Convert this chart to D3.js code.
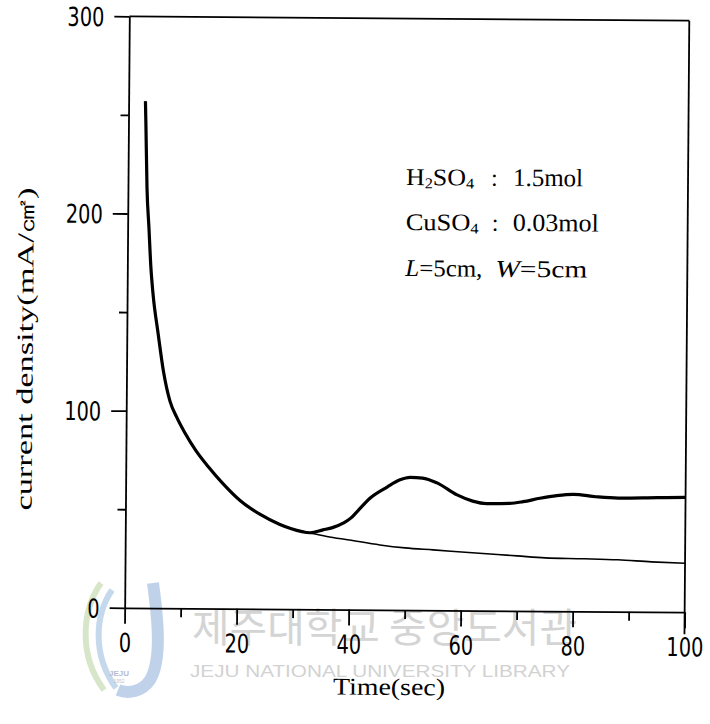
<!DOCTYPE html>
<html><head><meta charset="utf-8">
<script src="https://cdn.jsdelivr.net/npm/d3@7"></script>
<style>body{margin:0;background:#fff}svg{display:block}</style>
</head><body>
<svg id="c" width="710" height="724"></svg>
<script>
// ---- data ----
const xTicks = [0, 20, 40, 60, 80, 100];
const xMinor = [10, 30, 50, 70, 90];
const yTicks = [0, 100, 200, 300];
const yMinor = [50, 150, 250];

// thin curve
const timeThin = [3.0, 3.1, 3.4, 3.8, 4.2, 4.6, 5.6, 6.6, 7.8, 9.0, 10.5, 12.5, 14.7, 17.5, 20.4, 24, 27.5, 29.4, 33, 36, 40, 45.5, 50, 55, 62, 70, 75, 82, 88, 94, 100];
const densThin = [257, 247, 213, 193, 173, 160, 139, 120, 105, 97, 89, 80, 72, 63, 55, 48, 43, 41, 38.7, 37, 35.3, 32.9, 31.5, 30.6, 29.3, 27.9, 27, 26.7, 26.3, 25.4, 24.8];

// thick curve
const timeThick = [3.0, 3.1, 3.4, 3.8, 4.2, 4.6, 5.6, 6.6, 7.8, 9.0, 10.5, 12.5, 14.7, 17.5, 20.4, 24, 27.5, 29.4, 33, 35.3, 37, 38.9, 40.3, 41.3, 43.7, 46.7, 49, 50.8, 53, 55.6, 59.2, 62, 64.5, 68.6, 71, 74, 77, 80, 84, 88, 95, 100];
const densThick = [257, 247, 213, 193, 173, 160, 139, 120, 105, 97, 89, 80, 72, 63, 55, 48, 43, 41, 38.8, 40.3, 41.5, 43.8, 46.5, 49.5, 56.7, 62.3, 66, 67.3, 67, 64.6, 58.6, 55.5, 54.3, 54.5, 55.4, 57.2, 58.6, 59.3, 58.2, 57.6, 58.0, 58.2];

const xTitle = "Time(sec)";
const yTitle = "current  density(mA/\u33A0)";

(function () {
const svg = d3.select("#c");
const pLeft = 127, pRight = 687, pTop = 18.5, pBottom = 610;
const x = d3.scaleLinear().domain([0, 100]).range([pLeft, pRight]);
const y = d3.scaleLinear().domain([0, 300]).range([pBottom, pTop]);

// watermark (behind)
const wm = svg.append("g");
wm.append("path").attr("d", "M101,583 C82,610 78,655 104,690").attr("fill", "none")
  .attr("stroke", "#d7e6c8").attr("stroke-width", 6);
wm.append("path").attr("d", "M112,590 C95,615 92,655 116,688").attr("fill", "none")
  .attr("stroke", "#c6d8ec").attr("stroke-width", 6);
wm.append("path").attr("d", "M153,583 C158,620 162,660 150,680 C142,692 128,694 118,690").attr("fill", "none")
  .attr("stroke", "#c0d2ea").attr("stroke-width", 12);
wm.append("text").attr("x", 119).attr("y", 676).attr("text-anchor", "middle")
  .attr("font-family", "Liberation Sans, sans-serif").attr("font-size", 8).attr("font-weight", "bold")
  .attr("fill", "#b4bccb").text("JEJU");
wm.append("text").attr("x", 119).attr("y", 683).attr("text-anchor", "middle")
  .attr("font-family", "Liberation Sans, sans-serif").attr("font-size", 5)
  .attr("fill", "#c0c6d0").text("1952");
wm.append("text").attr("x", 192).attr("y", 642)
  .attr("font-family", "Noto Sans CJK KR, sans-serif").attr("font-size", 40)
  .attr("textLength", 385).attr("lengthAdjust", "spacingAndGlyphs")
  .attr("fill", "#d4d4d4").text("제주대학교 중앙도서관");
wm.append("text").attr("x", 190).attr("y", 677)
  .attr("font-family", "Liberation Sans, sans-serif").attr("font-size", 17)
  .attr("textLength", 380).attr("lengthAdjust", "spacingAndGlyphs")
  .attr("fill", "#d2d2d2").text("JEJU NATIONAL UNIVERSITY  LIBRARY");

// chart group, slightly rotated like the scanned page
const g = svg.append("g").attr("transform", "rotate(0.45,405,312)");

const tickFont = "Liberation Sans Narrow, DejaVu Sans Condensed, Arial Narrow, sans-serif";
const serif = "Liberation Serif, Times New Roman, serif";

// frame top & right
g.append("line").attr("x1", x(0)).attr("x2", x(100)).attr("y1", y(300)).attr("y2", y(300))
  .attr("stroke", "#000").attr("stroke-width", 1.8);
g.append("line").attr("x1", x(100)).attr("x2", x(100)).attr("y1", y(300)).attr("y2", y(0) + 22)
  .attr("stroke", "#000").attr("stroke-width", 1.8);

// y axis
const yAx = g.append("g").attr("transform", `translate(${pLeft},0)`)
  .call(d3.axisLeft(y).tickValues(yTicks).tickSize(15).tickSizeOuter(0).tickPadding(10).tickFormat(d3.format("d")));
yAx.append("g").call(d3.axisLeft(y).tickValues(yMinor).tickSize(8).tickSizeOuter(0).tickFormat(""))
  .select(".domain").remove();
yAx.selectAll("path,line").attr("stroke", "#000").attr("stroke-width", 1.8);
yAx.selectAll("text").attr("font-family", tickFont).attr("font-size", 26)
  .attr("fill", "#000").attr("dy", "0.36em")
  .attr("textLength", d => String(d).length * 12.3).attr("lengthAdjust", "spacingAndGlyphs");

// x axis
const xAx = g.append("g").attr("transform", `translate(0,${pBottom})`)
  .call(d3.axisBottom(x).tickValues(xTicks).tickSize(16).tickSizeOuter(0).tickFormat(d3.format("d")));
xAx.append("g").call(d3.axisBottom(x).tickValues(xMinor).tickSize(9).tickSizeOuter(0).tickFormat(""))
  .select(".domain").remove();
xAx.selectAll("path,line").attr("stroke", "#000").attr("stroke-width", 1.8);
xAx.selectAll("text").attr("font-family", tickFont).attr("font-size", 26)
  .attr("fill", "#000").attr("y", 44).attr("dy", 0)
  .attr("textLength", d => String(d).length * 12.3).attr("lengthAdjust", "spacingAndGlyphs");

// titles
g.append("text").attr("x", 392).attr("y", 695).attr("text-anchor", "middle")
  .attr("font-family", serif).attr("font-size", 24)
  .attr("textLength", 112).attr("lengthAdjust", "spacingAndGlyphs").text(xTitle);
g.append("text").attr("transform", "translate(33,352) rotate(-90)").attr("text-anchor", "middle")
  .attr("font-family", serif).attr("font-size", 23)
  .attr("textLength", 323).attr("lengthAdjust", "spacingAndGlyphs").text(yTitle);

// annotation
const ann = g.append("g").attr("font-family", serif).attr("font-size", 24).attr("fill", "#000");
const t1 = ann.append("text").attr("x", 405).attr("y", 185)
  .attr("textLength", 68).attr("lengthAdjust", "spacingAndGlyphs");
t1.append("tspan").text("H");
t1.append("tspan").attr("font-size", 15).attr("dy", 3).text("2");
t1.append("tspan").attr("dy", -3).text("SO");
t1.append("tspan").attr("font-size", 15).attr("dy", 3).text("4");
ann.append("text").attr("x", 490).attr("y", 185).text(":");
ann.append("text").attr("x", 512).attr("y", 185).attr("font-size", 25)
  .attr("textLength", 70).attr("lengthAdjust", "spacingAndGlyphs").text("1.5mol");
const t2 = ann.append("text").attr("x", 405).attr("y", 230)
  .attr("textLength", 73).attr("lengthAdjust", "spacingAndGlyphs");
t2.append("tspan").text("CuSO");
t2.append("tspan").attr("font-size", 15).attr("dy", 3).text("4");
ann.append("text").attr("x", 491).attr("y", 230).text(":");
ann.append("text").attr("x", 512).attr("y", 230).attr("font-size", 25)
  .attr("textLength", 86).attr("lengthAdjust", "spacingAndGlyphs").text("0.03mol");
const t3 = ann.append("text").attr("x", 405).attr("y", 276)
  .attr("textLength", 77).attr("lengthAdjust", "spacingAndGlyphs");
t3.append("tspan").attr("font-style", "italic").text("L");
t3.append("tspan").text("=5cm,");
const t4 = ann.append("text").attr("x", 495).attr("y", 276)
  .attr("textLength", 92).attr("lengthAdjust", "spacingAndGlyphs");
t4.append("tspan").attr("font-style", "italic").text("W");
t4.append("tspan").text("=5cm");

// curves
const line = d3.line().x(d => x(d[0])).y(d => y(d[1])).curve(d3.curveMonotoneX);
g.append("path").datum(d3.zip(timeThin, densThin)).attr("d", line)
  .attr("fill", "none").attr("stroke", "#000").attr("stroke-width", 1.6);
g.append("path").datum(d3.zip(timeThick, densThick)).attr("d", line)
  .attr("fill", "none").attr("stroke", "#000").attr("stroke-width", 3.2).attr("stroke-linejoin", "round");
})();
</script>
</body></html>
